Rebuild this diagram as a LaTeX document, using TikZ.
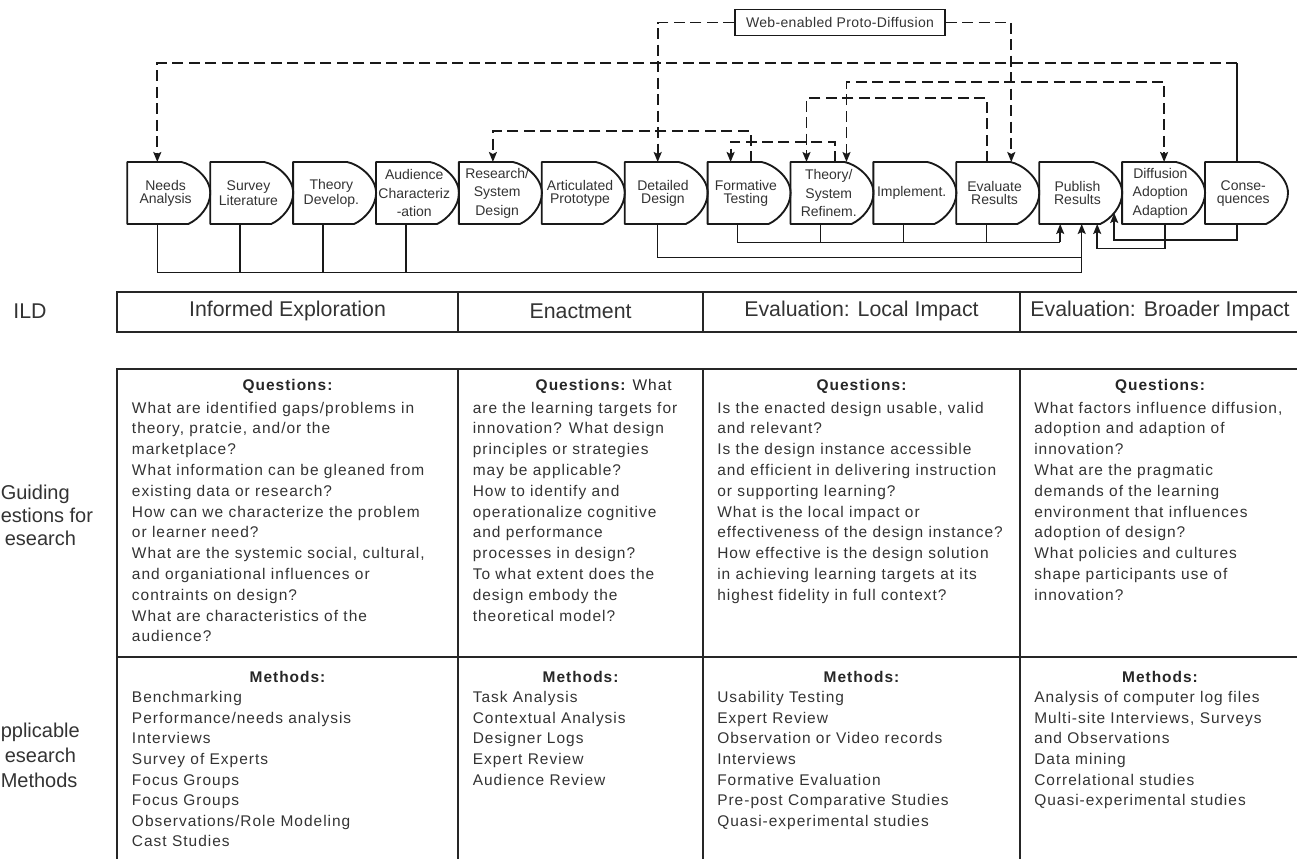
\documentclass[tikz,border=0pt]{standalone}
\usepackage{fontspec}
\setmainfont{Liberation Sans}
\newfontfamily\qfont[LetterSpace=6.5]{Liberation Sans}
\newfontfamily\wfont[LetterSpace=2.5]{Liberation Sans}
\usetikzlibrary{arrows.meta,calc}
\newcommand\celllines[5]{%
  \foreach \ln [count=\k] in {#5}{%
    \node[celltext] (#1-\k) at (#2,{#3+#4*(\k-1)}) {\ln};}}
\begin{document}
\begin{tikzpicture}[x=0.75pt,y=-0.75pt,
  line/.style={line width=1.15pt, draw=black!90},
  dline/.style={line width=1.4pt, draw=black!90, dash pattern=on 8.25pt off 4.1pt},
  arr/.style={-{Stealth[length=7.5pt,width=6pt,inset=1.5pt]}},
  biarr/.style={{Stealth[length=7.5pt,width=6pt,inset=1.5pt]}-{Stealth[length=7.5pt,width=6pt,inset=1.5pt]}},
  boxline/.style={line width=1.4pt, draw=black!90, line join=round},
  tab/.style={line width=1.3pt, draw=black!85},
  stagebox/.style={draw=none, minimum width=57pt, minimum height=46.5pt, inner sep=0pt, anchor=north west, align=center, text=black!80},
  celltext/.style={anchor=base west, inner sep=0pt, text=black!80, font=\qfont\fontsize{11.6}{14}\selectfont},
  headtext/.style={anchor=base, inner sep=0pt, text=black!85, font=\qfont\bfseries\fontsize{11.6}{14}\selectfont},
  ildtext/.style={text=black!80, inner sep=0pt, font=\fontsize{16}{19}\selectfont},
  sidetext/.style={anchor=base west, text=black!80, inner sep=0pt, font=\fontsize{15}{18}\selectfont},
  webbox/.style={draw=black!90, line width=1.1pt, minimum width=157.5pt, minimum height=19.8pt, inner sep=0pt, text=black!80, font=\wfont\fontsize{10.5}{12}\selectfont}
]
\useasboundingbox (0,0) rectangle (1297,858);

% ---------- stage boxes ----------
\foreach \i/\t/\bs in {
  0/{Needs\\Analysis}/9.5,
  1/{Survey\\Literature}/9.5,
  2/{Theory\\Develop.}/9.5,
  3/{Audience\\Characteriz\\-ation}/14,
  4/{Research/\\System\\Design}/14,
  5/{Articulated\\Prototype}/9.5,
  6/{Detailed\\Design}/9.5,
  7/{Formative\\Testing}/9.5,
  8/{Theory/\\System\\Refinem.}/14,
  9/{Implement.}/9.5,
  10/{Evaluate\\Results}/9.5,
  11/{Publish\\Results}/9.5,
  12/{Diffusion\\Adoption\\Adaption}/14,
  13/{Conse-\\quences}/9.5}{
  \node[stagebox, font=\fontsize{10.5}{\bs}\selectfont] (b\i) at ({127.3+82.9*\i},162) {\t};
  \draw[boxline, shift={(b\i.north west)}] (0,0) -- (54,0)
     .. controls (65,2) and (83,15) .. (83,31)
     .. controls (83,44) and (72,57) .. (61,62) -- (0,62) -- cycle;
}

% ---------- web box ----------
\node[webbox] (web) at (840,22.5) {Web-enabled Proto-Diffusion};

% ---------- dashed feedback connectors ----------
\coordinate (c1) at ($(b13.north west)+(32,-98.7)$);
\draw[line] ($(b13.north west)+(32,0)$) -- (c1);
\draw[dline, arr] (c1) -| ($(b0.north west)+(30,0)$);
\draw[dline, arr] (web.west) -| ($(b6.north west)+(33,0)$);
\draw[dline, arr] (web.east) -| ($(b10.north west)+(55,0)$);
\draw[dline, biarr] ($(b8.north west)+(56,0)$) -- ++(0,-80.3) -| ($(b12.north west)+(42,0)$);
\draw[dline, arr] ($(b10.north west)+(31,0)$) -- ++(0,-63.7) -| ($(b8.north west)+(16,0)$);
\draw[dline, arr] ($(b7.north west)+(43,0)$) -- ++(0,-31) -| ($(b4.north west)+(34,0)$);
\draw[dline, arr] ($(b8.north west)+(44.5,0)$) -- ++(0,-20.3) -| ($(b7.north west)+(23,0)$);

% ---------- solid connectors to Publish Results ----------
\coordinate (j1) at ($(b11.north west)+(42.5,110.7)$);
\draw[line] ($(b0.north west)+(30,62)$) |- (j1);
\foreach \i in {1,2,3}{\draw[line] ($(b\i.north west)+(30,62)$) -- ++(0,48.7);}
\draw[line] ($(b6.north west)+(33,62)$) |- ($(b11.north west)+(42.5,95.3)$);
\draw[line, arr] (j1) -- ($(b11.north west)+(42.5,62)$);
\coordinate (j3) at ($(b11.north west)+(21,80.3)$);
\draw[line] ($(b7.north west)+(30,62)$) |- (j3);
\foreach \i in {8,9,10}{\draw[line] ($(b\i.north west)+(30,62)$) -- ++(0,18.3);}
\draw[line, arr] (j3) -- ($(b11.north west)+(21,62)$);
\draw[line, arr] ($(b12.north west)+(43,62)$) -- ++(0,24.3) -| ($(b11.north west)+(58,62)$);
\draw[line, arr] ($(b13.north west)+(32,62)$) -- ++(0,16) -| ($(b11.north west)+(75,51)$);

% ---------- ILD row ----------
\node[ildtext] (ild) at (30,311) {ILD};
\draw[tab] (116.7,291.7) rectangle (1300,331.7);
\foreach \xx in {458.3,703,1020}{\draw[tab] (\xx,291.7) -- (\xx,331.7);}
\node[ildtext] (ph1) at (287.5,311) {Informed Exploration};
\node[ildtext] (ph2) at (580.6,311) {Enactment};
\node[ildtext] (ph3) at (861.5,311) {Evaluation: Local Impact};
\node[ildtext] (ph4) at (1160,311) {Evaluation: Broader Impact};

% ---------- questions / methods table ----------
\draw[tab] (116.7,369) rectangle (1300,880);
\draw[tab] (116.7,657) -- (1300,657);
\foreach \xx in {458.3,703,1020}{\draw[tab] (\xx,369) -- (\xx,880);}

% side labels (as cropped in the picture)
\node[sidetext] (lq1) at (0.5,499) {Guiding};
\node[sidetext] (lq2) at (0.5,522) {estions for};
\node[sidetext] (lq3) at (4.5,545) {esearch};
\node[sidetext] (lm1) at (0.5,737) {pplicable};
\node[sidetext] (lm2) at (4.5,762) {esearch};
\node[sidetext] (lm3) at (0.5,787) {Methods};

% questions
\node[headtext] (q1h) at (287.5,390) {Questions:};
\node[headtext, anchor=base east] (q2h) at (672,390) {Questions: \mdseries What};
\node[headtext] (q3h) at (861.5,390) {Questions:};
\node[headtext] (q4h) at (1160,390) {Questions:};
\celllines{q1}{131.7}{413}{20.8}{{What are identified gaps/problems in},{theory, pratcie, and/or the},{marketplace?},{What information can be gleaned from},{existing data or research?},{How can we characterize the problem},{or learner need?},{What are the systemic social, cultural,},{and organiational influences or},{contraints on design?},{What are characteristics of the},{audience?}}
\celllines{q2}{472.5}{413}{20.8}{{are the learning targets for},{innovation? What design},{principles or strategies},{may be applicable?},{How to identify and},{operationalize cognitive},{and performance},{processes in design?},{To what extent does the},{design embody the},{theoretical model?}}
\celllines{q3}{717}{413}{20.8}{{Is the enacted design usable, valid},{and relevant?},{Is the design instance accessible},{and efficient in delivering instruction},{or supporting learning?},{What is the local impact or},{effectiveness of the design instance?},{How effective is the design solution},{in achieving learning targets at its},{highest fidelity in full context?}}
\celllines{q4}{1034}{413}{20.8}{{What factors influence diffusion,},{adoption and adaption of},{innovation?},{What are the pragmatic},{demands of the learning},{environment that influences},{adoption of design?},{What policies and cultures},{shape participants use of},{innovation?}}

% methods
\node[headtext] (m1h) at (287.5,682.7) {Methods:};
\node[headtext] (m2h) at (580.6,682.7) {Methods:};
\node[headtext] (m3h) at (861.5,682.7) {Methods:};
\node[headtext] (m4h) at (1160,682.7) {Methods:};
\celllines{m1}{131.7}{702.7}{20.6}{{Benchmarking},{Performance/needs analysis},{Interviews},{Survey of Experts},{Focus Groups},{Focus Groups},{Observations/Role Modeling},{Cast Studies}}
\celllines{m2}{472.5}{702.7}{20.6}{{Task Analysis},{Contextual Analysis},{Designer Logs},{Expert Review},{Audience Review}}
\celllines{m3}{717}{702.7}{20.6}{{Usability Testing},{Expert Review},{Observation or Video records},{Interviews},{Formative Evaluation},{Pre-post Comparative Studies},{Quasi-experimental studies}}
\celllines{m4}{1034}{702.7}{20.6}{{Analysis of computer log files},{Multi-site Interviews, Surveys},{and Observations},{Data mining},{Correlational studies},{Quasi-experimental studies}}
\end{tikzpicture}
\end{document}
